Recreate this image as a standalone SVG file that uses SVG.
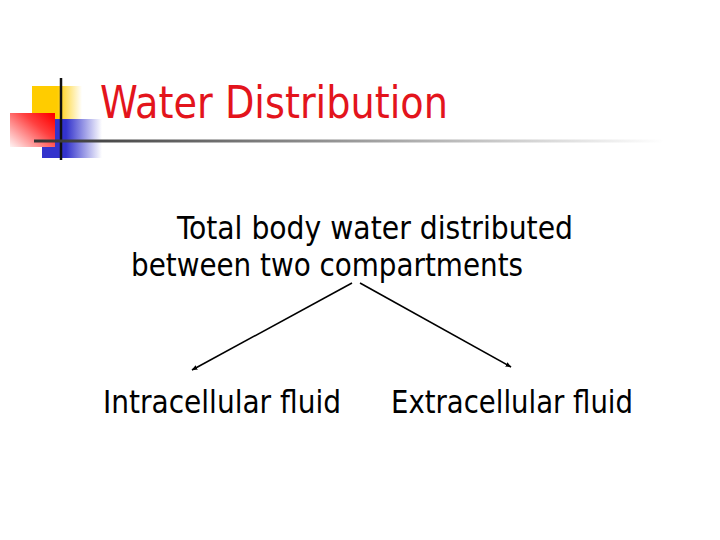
<svg xmlns="http://www.w3.org/2000/svg" width="720" height="540" viewBox="0 0 720 540">
  <defs>
    <linearGradient id="gY" x1="0" y1="0" x2="1" y2="0">
      <stop offset="0" stop-color="#ffcc00"/>
      <stop offset="0.5" stop-color="#ffcc00"/>
      <stop offset="1" stop-color="#ffffff"/>
    </linearGradient>
    <linearGradient id="gB" x1="0" y1="0" x2="1" y2="0">
      <stop offset="0" stop-color="#3333cc"/>
      <stop offset="0.4" stop-color="#3333cc"/>
      <stop offset="1" stop-color="#ffffff"/>
    </linearGradient>
    <linearGradient id="gR" x1="1" y1="0.1" x2="0" y2="1">
      <stop offset="0" stop-color="#ff0000"/>
      <stop offset="0.35" stop-color="#ff4040"/>
      <stop offset="1" stop-color="#fff4f4"/>
    </linearGradient>
    <linearGradient id="gL" x1="0" y1="0" x2="1" y2="0">
      <stop offset="0" stop-color="#333333"/>
      <stop offset="1" stop-color="#ffffff"/>
    </linearGradient>
    <marker id="ah" viewBox="0 0 10 10" refX="9" refY="5" markerWidth="6" markerHeight="6" orient="auto" markerUnits="userSpaceOnUse">
      <path d="M0,1 L10,5 L0,9 z" fill="#000"/>
    </marker>
    <style>
      .t { font-family: Tahoma, "DejaVu Sans Condensed", "DejaVu Sans", sans-serif; }
      .title { font-size: 44px; fill: #e3141c; }
      .body { font-size: 32px; fill: #000; }
      .conn { stroke: #000; stroke-width: 1.6; fill: none; marker-end: url(#ah); }
    </style>
  </defs>
  <rect width="720" height="540" fill="#ffffff"/>
  <g id="logo">
    <rect x="32" y="86" width="50" height="33" fill="url(#gY)"/>
    <rect x="42" y="119" width="60" height="39" fill="url(#gB)"/>
    <rect x="10" y="113" width="45" height="34" fill="url(#gR)"/>
    <line x1="61" y1="78" x2="61" y2="160" stroke="#111" stroke-width="2.5"/>
    <rect x="34" y="139.5" width="630" height="3" fill="url(#gL)"/>
  </g>
  <g id="title">
    <text class="t title" x="100" y="118" textLength="348" lengthAdjust="spacingAndGlyphs">Water Distribution</text>
  </g>
  <g id="total">
    <text class="t body" x="177" y="239" textLength="396" lengthAdjust="spacingAndGlyphs">Total body water distributed</text>
    <text class="t body" x="131" y="276" textLength="392" lengthAdjust="spacingAndGlyphs">between two compartments</text>
  </g>
  <g id="intracellular">
    <text class="t body" x="103" y="413" textLength="238" lengthAdjust="spacingAndGlyphs">Intracellular fluid</text>
  </g>
  <g id="extracellular">
    <text class="t body" x="391" y="413" textLength="242" lengthAdjust="spacingAndGlyphs">Extracellular fluid</text>
  </g>
  <g id="connectors">
    <line class="conn" x1="352" y1="283" x2="192" y2="370"/>
    <line class="conn" x1="360" y1="283" x2="511" y2="367"/>
  </g>
</svg>
